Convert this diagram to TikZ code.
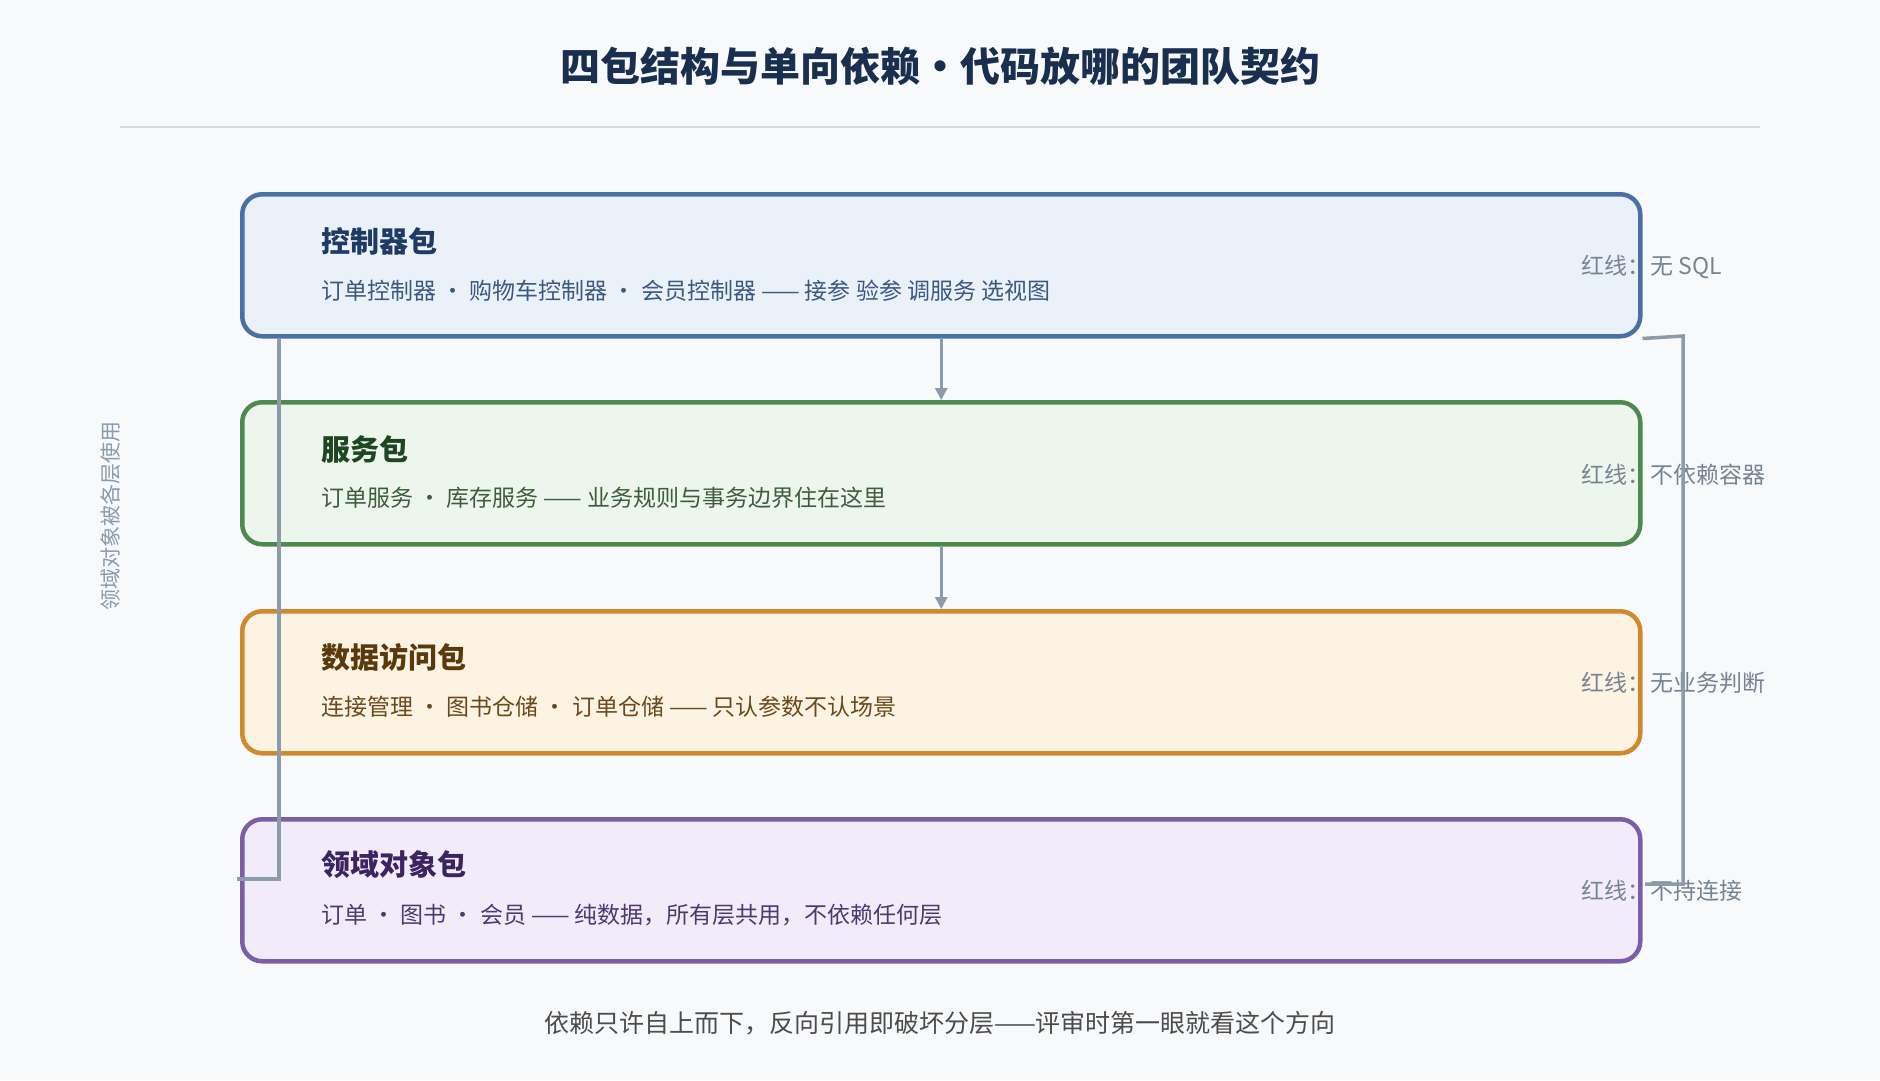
\documentclass[tikz,border=0pt]{standalone}
\usepackage{fontspec}
\newfontfamily\cjk{Noto Sans CJK SC}
\usetikzlibrary{positioning,arrows.meta}
\definecolor{bgc}{HTML}{F7F9FB}
\definecolor{linec}{HTML}{8C9BAA}
\definecolor{ctrlD}{HTML}{4A6FA5}\definecolor{ctrlF}{HTML}{EAF1F9}\definecolor{ctrlT}{HTML}{1F3B63}\definecolor{ctrlS}{HTML}{3A5A80}
\definecolor{svcD}{HTML}{4E8A4E}\definecolor{svcF}{HTML}{EDF6EC}\definecolor{svcT}{HTML}{1E4620}\definecolor{svcS}{HTML}{3D5E3D}
\definecolor{daoD}{HTML}{D08A2E}\definecolor{daoF}{HTML}{FDF3E3}\definecolor{daoT}{HTML}{5A3A0A}\definecolor{daoS}{HTML}{6A4A1A}
\definecolor{domD}{HTML}{7B5EA7}\definecolor{domF}{HTML}{F2ECFA}\definecolor{domT}{HTML}{3B2460}\definecolor{domS}{HTML}{4F3A70}
\begin{document}
\begin{tikzpicture}
	[
	x=1pt, y=-1pt,
	> = {Triangle[length=12pt,width=12pt]},
	pkg/.style = {draw=#1D, fill=#1F, line width=4.5pt, rounded corners=20pt, minimum width=1398pt, minimum height=142pt, anchor=north west},
	head/.style = {anchor=west, font=\cjk\bfseries\fontsize{29}{34}\selectfont, text=#1T},
	sub/.style = {anchor=west, font=\cjk\fontsize{23}{28}\selectfont, text=#1S},
	rule/.style = {anchor=west, font=\cjk\fontsize{23}{28}\selectfont, text=linec!85!black},
	link/.style = {draw=linec, line width=3.5pt}
	]
	\fill[bgc] (0,0) rectangle (1880,1080);
	\node[font=\cjk\bfseries\fontsize{40}{46}\selectfont, text=ctrlT!80!black] (title) at (940,66) {四包结构与单向依赖・代码放哪的团队契约};
	\draw[black!15, line width=1.2pt] (120,127) -- (1760,127);

	% four packages
	\node[pkg=ctrl] (ctrl) at (240,192) {};
	\node[pkg=svc] (svc) at (240,400) {};
	\node[pkg=dao] (dao) at (240,609) {};
	\node[pkg=dom] (dom) at (240,817) {};

	\node[head=ctrl] (ctrlH) at (318,241) {控制器包};
	\node[sub=ctrl] (ctrlB) at (318,291) {订单控制器 · 购物车控制器 · 会员控制器 —— 接参 验参 调服务 选视图};
	\node[head=svc] (svcH) at (318,449) {服务包};
	\node[sub=svc] (svcB) at (318,498) {订单服务 · 库存服务 —— 业务规则与事务边界住在这里};
	\node[head=dao] (daoH) at (318,657) {数据访问包};
	\node[sub=dao] (daoB) at (318,707) {连接管理 · 图书仓储 · 订单仓储 —— 只认参数不认场景};
	\node[head=dom] (domH) at (318,865) {领域对象包};
	\node[sub=dom] (domB) at (318,915) {订单 · 图书 · 会员 —— 纯数据，所有层共用，不依赖任何层};

	\node[rule] (ctrlR) at (1578,267) {红线：无 SQL};
	\node[rule] (svcR) at (1578,475) {红线：不依赖容器};
	\node[rule] (daoR) at (1578,683) {红线：无业务判断};
	\node[rule] (domR) at (1578,891) {红线：不持连接};

	% one-way dependencies
	\draw[link,->] (ctrl.south) -- (svc.north);
	\draw[link,->] (svc.south) -- (dao.north);

	\coordinate (rTop) at (1683,336);
	\coordinate (rBot) at (1683,884);
	\draw[link] (ctrl.south east) -- (rTop) -- (rBot) -- (1645,884);
	\coordinate (lTop) at (279,338);
	\coordinate (lBot) at (279,879);
	\draw[link] (lTop) -- (lBot) -- (237,879);

	\node[rotate=90, font=\cjk\fontsize{21}{25}\selectfont, text=linec] (domNote) at (111,516) {领域对象被各层使用};
	\node[font=\cjk\fontsize{25}{30}\selectfont, text=black!70] (foot) at (940,1023) {依赖只许自上而下，反向引用即破坏分层——评审时第一眼就看这个方向};
\end{tikzpicture}
\end{document}
